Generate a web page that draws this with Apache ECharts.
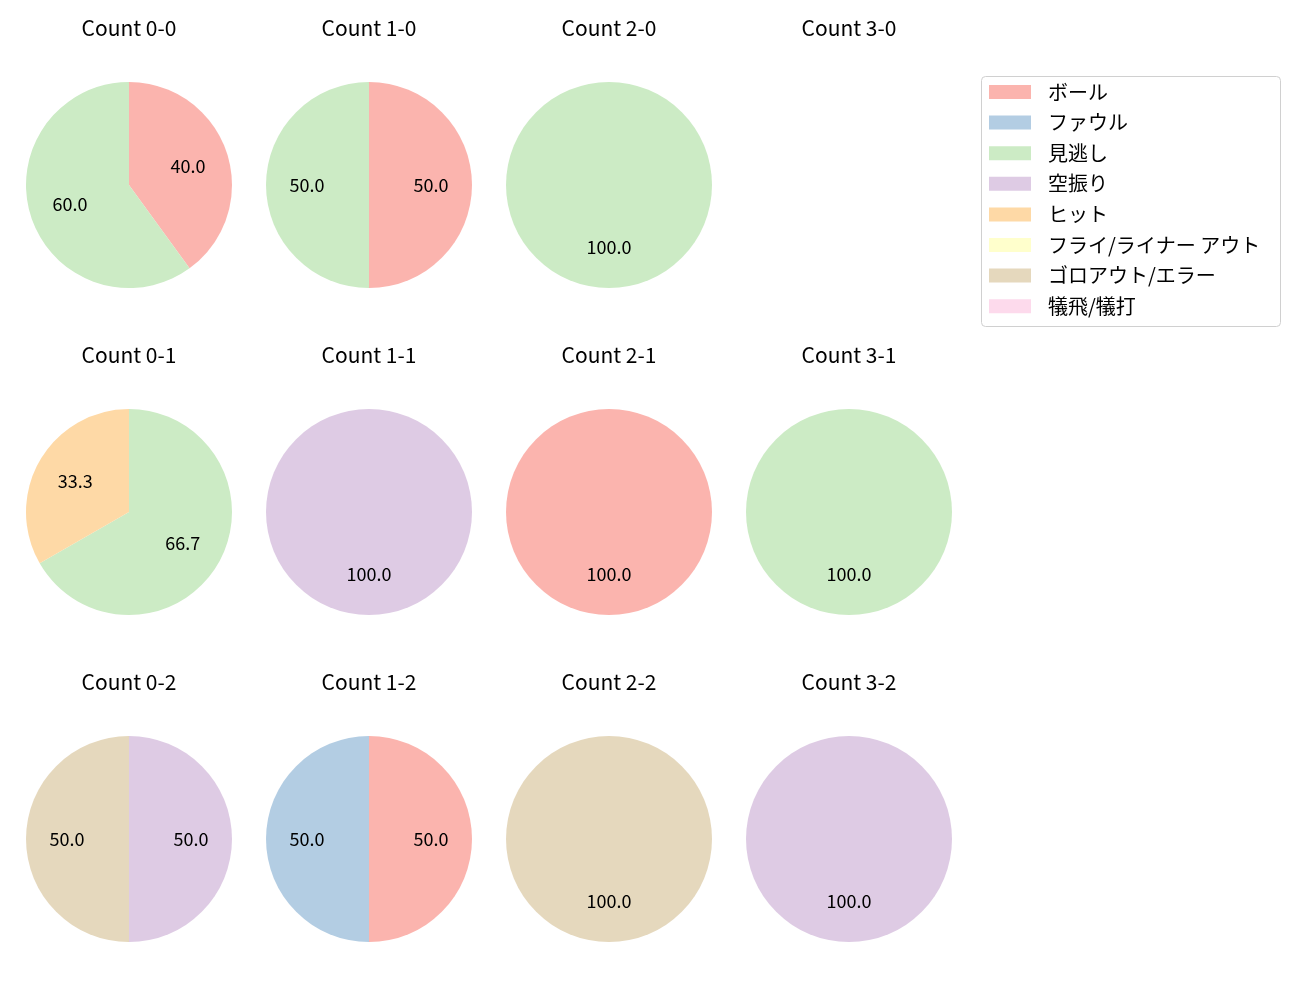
<!DOCTYPE html>
<html>
<head>
<meta charset="utf-8">
<script src="https://cdn.jsdelivr.net/npm/echarts@6/dist/echarts.min.js"></script>
<style>html,body{margin:0;padding:0;background:#fff;}#c{width:1300px;height:1000px;}</style>
</head>
<body>
<div id="c"></div>
<script>
const categories = ['ボール','ファウル','見逃し','空振り','ヒット','フライ/ライナー アウト','ゴロアウト/エラー','犠飛/犠打'];
const colors = ['#fbb4ae','#b3cde3','#ccebc5','#decbe4','#fed9a6','#ffffcc','#e5d8bd','#fddaec'];
const panelTitles = ['Count 0-0','Count 1-0','Count 2-0','Count 3-0',
                     'Count 0-1','Count 1-1','Count 2-1','Count 3-1',
                     'Count 0-2','Count 1-2','Count 2-2','Count 3-2'];
// percentages per panel, in category order
const count00 = [40,0,60,0,0,0,0,0];
const count10 = [50,0,50,0,0,0,0,0];
const count20 = [0,0,100,0,0,0,0,0];
const count30 = [0,0,0,0,0,0,0,0];
const count01 = [0,0,66.7,0,33.3,0,0,0];
const count11 = [0,0,0,100,0,0,0,0];
const count21 = [100,0,0,0,0,0,0,0];
const count31 = [0,0,100,0,0,0,0,0];
const count02 = [0,0,0,50,0,0,50,0];
const count12 = [50,50,0,0,0,0,0,0];
const count22 = [0,0,0,0,0,0,100,0];
const count32 = [0,0,0,100,0,0,0,0];
const panels = [count00,count10,count20,count30,count01,count11,count21,count31,count02,count12,count22,count32];

const colX = [129,369,609,849];
const rowY = [185,512,839];
const R = 103;
const font = '"Noto Sans CJK JP", "Noto Sans", sans-serif';
const titleSize = 21;

const titles = [];
const series = [];
panels.forEach((vals, i) => {
  const cx = colX[i % 4], cy = rowY[Math.floor(i / 4)];
  titles.push({
    text: panelTitles[i], left: cx, top: cy - 157 - titleSize / 2, textAlign: 'center', padding: 0,
    textStyle: {fontFamily: font, fontSize: titleSize, fontWeight: 'normal', color: '#000', lineHeight: titleSize}
  });
  const total = vals.reduce((a, b) => a + b, 0);
  series.push({
    type: 'pie', center: [cx, cy], radius: [0, R], startAngle: 90, clockwise: true,
    silent: true, animation: false, stillShowZeroSum: false, minAngle: 0,
    label: {show: false}, labelLine: {show: false},
    itemStyle: {borderWidth: 0},
    data: categories.map((c, k) => ({name: c, value: vals[k], itemStyle: {color: colors[k]}}))
  });
  if (total > 0) {
    series.push({
      type: 'pie', center: [cx, cy], radius: [15, R], startAngle: 90, clockwise: true,
      silent: true, animation: false, legendHoverLink: false,
      itemStyle: {color: 'rgba(0,0,0,0)', borderWidth: 0},
      label: {show: true, position: 'inside', color: '#000', fontFamily: font, fontSize: 18,
              formatter: p => p.value.toFixed(1)},
      labelLine: {show: false},
      data: categories.map((c, k) => ({name: c + '#lbl', value: vals[k]})).filter(d => d.value > 0)
    });
  }
});

const chart = echarts.init(document.getElementById('c'), null, {renderer: 'canvas'});
chart.setOption({
  backgroundColor: '#fff',
  animation: false,
  title: titles,
  legend: {
    data: categories.map((c, k) => ({name: c, itemStyle: {color: colors[k]}})),
    orient: 'vertical', left: 989, top: 81.5, padding: 0,
    itemWidth: 42, itemHeight: 14, itemGap: 9.6,
    icon: 'rect', selectedMode: false,
    textStyle: {fontFamily: font, fontSize: 20, color: '#000', padding: [0, 0, 0, 12], lineHeight: 21}
  },
  graphic: [{
    type: 'rect', shape: {x: 981.5, y: 76.5, width: 299, height: 250, r: 4},
    style: {fill: 'rgba(255,255,255,0.8)', stroke: '#d0d0d0', lineWidth: 1}, z: -1
  }],
  series: series
});
</script>
</body>
</html>
